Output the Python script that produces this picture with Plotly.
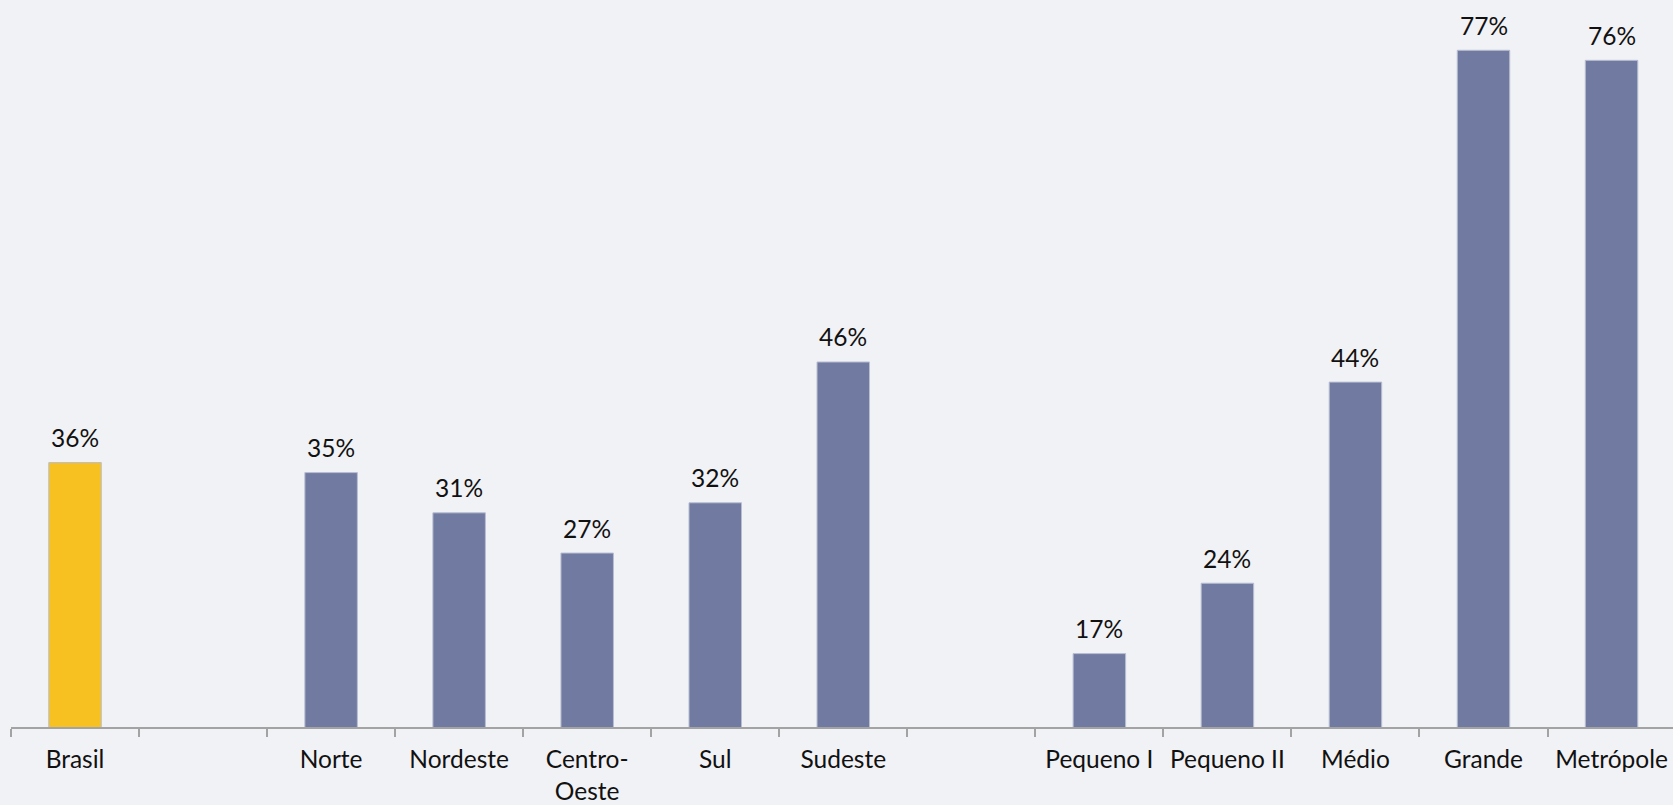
import plotly.graph_objects as go

categories = ["Brasil", " ", "Norte", "Nordeste", "Centro-<br>Oeste", "Sul", "Sudeste",
              "  ", "Pequeno I", "Pequeno II", "Médio", "Grande", "Metrópole"]
values = [36, None, 35, 31, 27, 32, 46, None, 17, 24, 44, 77, 76]
labels = ["36%", "", "35%", "31%", "27%", "32%", "46%", "", "17%", "24%", "44%", "77%", "76%"]
highlight = ["Brasil"]

YELLOW = "#F7C121"
BLUE = "#717BA1"
colors = [YELLOW if c in highlight else BLUE for c in categories]
FONT = "Lato"
FS = 24.5

fig = go.Figure()
fig.add_trace(go.Bar(
    x=categories, y=values,
    marker=dict(color=colors, line=dict(color="#B9BED2", width=1)),
    width=0.41,
    hoverinfo="skip",
))

for c, v, t in zip(categories, values, labels):
    if v is None:
        continue
    fig.add_annotation(x=c, y=v, text=t, showarrow=False, xref="x", yref="y",
                       yanchor="middle", yshift=25,
                       font=dict(family=FONT, size=FS, color="#111111"))

fig.update_layout(
    width=1673, height=805,
    margin=dict(l=11, r=0, t=0, b=78),
    paper_bgcolor="#F1F2F5", plot_bgcolor="rgba(0,0,0,0)",
    showlegend=False,
    font=dict(family=FONT, size=FS, color="#111111"),
)
fig.update_xaxes(
    type="category", categoryorder="array", categoryarray=categories,
    range=[-0.5, 12.48],
    showline=True, linecolor="#A3A3A3", linewidth=2,
    ticks="outside", tickson="boundaries", ticklen=8, tickwidth=2, tickcolor="#A3A3A3",
    showgrid=False, zeroline=False,
    tickfont=dict(family=FONT, size=FS, color="#111111"),
    ticklabelstandoff=10, automargin=False,
)
fig.update_yaxes(range=[9.7, 82.0], visible=False, showgrid=False, zeroline=False,
                 automargin=False)

fig.write_html("out.html",
               config={"displayModeBar": False, "staticPlot": True},
               post_script="document.body.style.margin='0';document.body.style.background='#F1F2F5';")
